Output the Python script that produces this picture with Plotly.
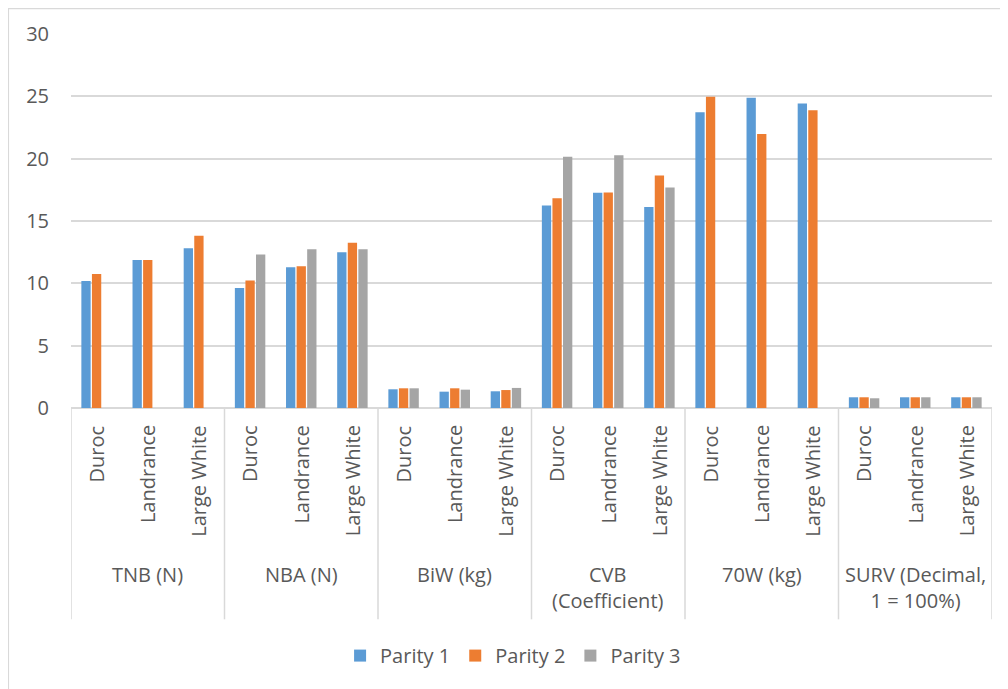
import plotly.graph_objects as go

groups = ["TNB (N)", "NBA (N)", "BiW (kg)", "CVB<br>(Coefficient)", "70W (kg)", "SURV (Decimal,<br>1 = 100%)"]
breeds = ["Duroc", "Landrance", "Large White"]
series_names = ["Parity 1", "Parity 2", "Parity 3"]

parity1 = [10.19, 11.88, 12.82, 9.63, 11.29, 12.50, 1.50, 1.31, 1.34,
           16.24, 17.26, 16.13, 23.73, 24.88, 24.43, 0.86, 0.86, 0.86]
parity2 = [10.75, 11.88, 13.81, 10.22, 11.37, 13.25, 1.58, 1.58, 1.44,
           16.83, 17.29, 18.65, 24.96, 21.97, 23.89, 0.86, 0.86, 0.86]
parity3 = [None, None, None, 12.31, 12.74, 12.74, 1.58, 1.47, 1.61,
           20.15, 20.28, 17.69, None, None, None, 0.78, 0.86, 0.86]

colors = ["#5B9BD5", "#ED7D31", "#A5A5A5"]
FONT = "Open Sans"
TXT = "#595959"
GRID = "#D9D9D9"

n = len(groups) * len(breeds)
xpos = list(range(n))
breed_labels = [b for g in groups for b in breeds]

fig = go.Figure()
for name, vals, c in zip(series_names, [parity1, parity2, parity3], colors):
    fig.add_trace(go.Bar(x=xpos, y=vals, name=name, marker=dict(color=c, line=dict(width=0))))

annotations = []
for i, lab in enumerate(breed_labels):
    annotations.append(dict(x=i, y=-0.041, xref="x", yref="paper", text=lab,
                            textangle=-90, showarrow=False, xanchor="center", yanchor="top",
                            font=dict(family=FONT, size=20, color=TXT)))
for gi, g in enumerate(groups):
    annotations.append(dict(x=gi * 3 + 1, y=-0.405, xref="x", yref="paper", text=g,
                            showarrow=False, xanchor="center", yanchor="top",
                            font=dict(family=FONT, size=20, color=TXT)))

shapes = []
for gi in range(len(groups) + 1):
    shapes.append(dict(type="line", xref="x", yref="paper", x0=gi * 3 - 0.5, x1=gi * 3 - 0.5,
                       y0=0, y1=-0.565, line=dict(color=GRID, width=1.5)))
# chart border (top & left visible)
shapes.append(dict(type="rect", xref="paper", yref="paper", x0=-0.0679, x1=1.2, y0=-2, y1=1.068,
                   line=dict(color=GRID, width=1.2), layer="below"))

fig.update_layout(
    width=1000, height=681,
    margin=dict(l=63, r=16, t=26, b=281),
    paper_bgcolor="white", plot_bgcolor="white",
    barmode="group", bargap=0.38, bargroupgap=0.12,
    font=dict(family=FONT, size=20, color=TXT),
    xaxis=dict(range=[-0.5, n - 0.5], showticklabels=False, showgrid=False, zeroline=False,
               showline=False, ticks="", fixedrange=True),
    yaxis=dict(range=[0, 30], dtick=5, showgrid=True, gridcolor=GRID, gridwidth=1.5,
               zeroline=True, zerolinecolor=GRID, zerolinewidth=1.5, showline=False, ticks="",
               ticklabelstandoff=21, tickfont=dict(family=FONT, size=20, color=TXT)),
    legend=dict(orientation="h", x=0.48, xanchor="center", y=-0.662, yanchor="middle",
                font=dict(family=FONT, size=20, color=TXT), itemwidth=30, traceorder="normal"),
    annotations=annotations, shapes=shapes,
)

fig.write_html("out.html")
